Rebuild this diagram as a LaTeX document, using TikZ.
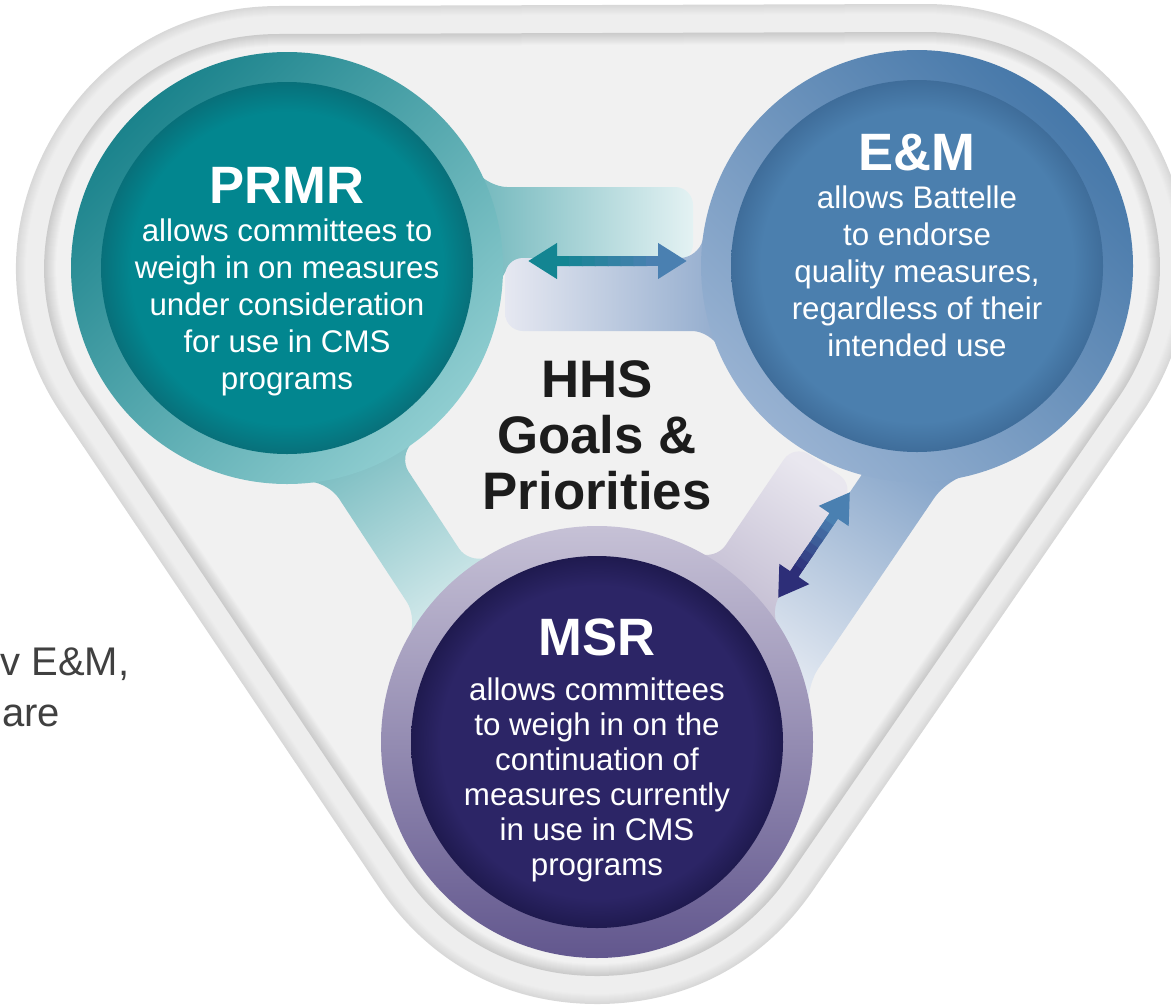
\documentclass[tikz,border=0pt]{standalone}
\usepackage{fontspec}
\setmainfont{Liberation Sans}
\usepackage{tikz}
\usetikzlibrary{arrows.meta, calc, positioning}
\usepackage{xcolor}
\definecolor{RimOuter}{HTML}{D8D8D8}
\definecolor{HullFace}{HTML}{EEEEEE}
\definecolor{RimInner}{HTML}{CBCBCB}
\definecolor{CenterFace}{HTML}{F1F1F1}
\definecolor{PrmrRingDark}{HTML}{1B838C}
\definecolor{PrmrRingLight}{HTML}{8FCDD0}
\definecolor{PrmrCore}{HTML}{02868F}
\definecolor{PrmrEdge}{HTML}{08707A}
\definecolor{EmRingDark}{HTML}{4678A9}
\definecolor{EmRingLight}{HTML}{98B2D2}
\definecolor{EmCore}{HTML}{4B7FAE}
\definecolor{EmEdge}{HTML}{3F6D9A}
\definecolor{MsrRingLight}{HTML}{C6C1D6}
\definecolor{MsrRingDark}{HTML}{62578E}
\definecolor{MsrCore}{HTML}{2C2566}
\definecolor{MsrEdge}{HTML}{1F1A4F}
\definecolor{BandATeal}{HTML}{55A9AF}
\definecolor{BandAPale}{HTML}{E4F2F3}
\definecolor{BandBPale}{HTML}{E6E8F1}
\definecolor{BandBBlue}{HTML}{7C9CC4}
\definecolor{BandCBlue}{HTML}{7095C0}
\definecolor{BandCPale}{HTML}{E2E8F1}
\definecolor{BandDPurple}{HTML}{B3ABC6}
\definecolor{BandDPale}{HTML}{E9E7EF}
\definecolor{BandETeal}{HTML}{62B1B6}
\definecolor{BandEPale}{HTML}{E9F4F5}
\definecolor{ArrTeal}{HTML}{138592}
\definecolor{ArrBlue}{HTML}{4A80B1}
\definecolor{ArrNavy}{HTML}{2D2E78}
\definecolor{HhsText}{HTML}{1C1C1C}
\definecolor{SideText}{HTML}{404040}
\pgfdeclareradialshading{prmrcore}{\pgfpoint{0bp}{0bp}}{color(0bp)=(PrmrCore); color(21bp)=(PrmrCore); color(25bp)=(PrmrEdge); color(50bp)=(PrmrEdge)}
\pgfdeclareradialshading{emcore}{\pgfpoint{0bp}{0bp}}{color(0bp)=(EmCore); color(21bp)=(EmCore); color(25bp)=(EmEdge); color(50bp)=(EmEdge)}
\pgfdeclareradialshading{msrcore}{\pgfpoint{0bp}{0bp}}{color(0bp)=(MsrCore); color(21bp)=(MsrCore); color(25bp)=(MsrEdge); color(50bp)=(MsrEdge)}
\tikzset{%
  ring_node/.style={%
    circle,%
    minimum size=216pt,%
    inner sep=0pt,%
    outer sep=0pt,%
  },
  core_node/.style={%
    circle,%
    shade,%
    minimum size=186pt,%
    inner sep=0pt,%
  },
  heading/.style={%
    anchor=base,%
    text=white,%
    inner sep=0pt,%
    font={\bfseries\fontsize{26.3pt}{30pt}\selectfont},%
  },
  blurb/.style={%
    anchor=base,%
    text=white,%
    align=center,%
    inner sep=0pt,%
    font={\fontsize{15.65pt}{18.5pt}\selectfont},%
  },
  hhs_text/.style={%
    anchor=base,%
    text=HhsText,%
    align=center,%
    inner sep=0pt,%
    font={\bfseries\fontsize{26.4pt}{28pt}\selectfont},%
  },
  side_note/.style={%
    anchor=base west,%
    text=SideText,%
    inner sep=0pt,%
    font={\fontsize{20pt}{24pt}\selectfont},%
  },
  bridge/.style={rounded corners=9pt},
  hull_layer/.style={line join=round},
  link/.style={line width=5pt},
  link_tip/.style={-{Triangle[length=14.5pt, width=17pt]}, line width=5pt},
}
\begin{document}
\begin{tikzpicture}[x=0.5pt, y=-0.5pt]
  \clip (0,0) rectangle (1171,1007);
  \fill[white] (0,0) rectangle (1171,1007);

  \coordinate (h1) at (279,268);
  \coordinate (h2) at (925,266);
  \coordinate (h3) at (597,742);
  \foreach \k in {0,...,10} {
    \pgfmathtruncatemacro\pc{100-10*\k}
    \pgfmathsetmacro\rw{262-\k}
    \filldraw[hull_layer, line width=\rw pt, color=RimOuter!\pc!HullFace] (h1) -- (h2) -- (h3) -- cycle;
  }
  \foreach \k in {0,...,12} {
    \pgfmathtruncatemacro\pc{100-100*\k/12}
    \pgfmathsetmacro\rw{234-\k}
    \filldraw[hull_layer, line width=\rw pt, color=RimInner!\pc!CenterFace] (h1) -- (h2) -- (h3) -- cycle;
  }

  % bridges between the circles
  \shade[bridge, left color=BandATeal, right color=BandAPale]
    (693,187) -- (489,187) -- (460,150) -- (420,200) -- (497,300) -- (506,262) -- (693,262) -- cycle;
  \shade[bridge, left color=BandBPale, right color=BandBBlue]
    (505,258) -- (698,258) -- (708,220) -- (780,220) -- (780,368) -- (730,368) -- (710,331) -- (505,331) -- cycle;
  \shade[bridge, top color=BandCBlue, bottom color=BandCPale, shading angle=-34]
    (934.3,368) -- (751.6,636.7) -- (809,725) -- (808.1,683.5) -- (944.7,482.6) -- (986,468) -- (994.7,409) -- cycle;
  \shade[bridge, top color=BandDPale, bottom color=BandDPurple, shading angle=-34]
    (854.5,485.4) -- (794.1,444.4) -- (715.4,560.2) -- (685,548) -- (654.7,649.5) -- (715.1,690.5) -- (790,650) -- (769.6,610.3) -- cycle;
  \shade[bridge, top color=BandETeal, bottom color=BandEPale, shading angle=33]
    (333.5,357.1) -- (427,428) -- (398.7,456.6) -- (468.9,563.6) -- (507,550) -- (525.4,649.7) -- (464.4,689.7) -- (402,655) -- (416.7,617) -- (328.9,483.2) -- (288,480) -- cycle;

  \node[ring_node, top color=PrmrRingDark, bottom color=PrmrRingLight, shading angle=45] (prmr) at (287,268) {};
  \node[ring_node, top color=EmRingDark, bottom color=EmRingLight, shading angle=-45] (em) at (917,266) {};
  \node[ring_node, top color=MsrRingLight, bottom color=MsrRingDark] (msr) at (597,742) {};
  \node[core_node, shading=prmrcore] (prmr-core) at (prmr.center) {};
  \node[core_node, shading=emcore] (em-core) at (em.center) {};
  \node[core_node, shading=msrcore] (msr-core) at (msr.center) {};

  \node[heading] (prmr-title) at ($(prmr)+(0,-65)$) {PRMR};
  \node[blurb] (prmr-text) at ($(prmr)+(0,121)$) {allows committees to\\weigh in on measures\\under consideration\\for use in CMS\\programs};
  \node[heading] (em-title) at ($(em)+(0,-96)$) {E\&M};
  \node[blurb] (em-text) at ($(em)+(0,90)$) {allows Battelle\\to endorse\\quality measures,\\regardless of their\\intended use};
  \node[heading] (msr-title) at ($(msr)+(0,-87)$) {MSR};
  \node[blurb, font={\fontsize{15.65pt}{17.5pt}\selectfont}] (msr-text) at ($(msr)+(0,133)$) {allows committees\\to weigh in on the\\continuation of\\measures currently\\in use in CMS\\programs};
  \node[hhs_text] (hhs) at (597,509) {HHS\\Goals \&\\Priorities};
  \node[side_note] (side-a) at (0,675) {v E\&M,};
  \node[side_note] (side-b) at (2,726) {are};

  % two-way arrows
  \coordinate (pe-a) at (528,261);
  \coordinate (pe-b) at (687,261);
  \coordinate (em-a) at (850,492);
  \coordinate (em-b) at (778,598);
  \draw[link_tip, ArrTeal] ($(pe-a)!30pt!(pe-b)$) -- (pe-a);
  \draw[link_tip, ArrBlue] ($(pe-b)!30pt!(pe-a)$) -- (pe-b);
  \draw[link_tip, ArrBlue] ($(em-a)!30pt!(em-b)$) -- (em-a);
  \draw[link_tip, ArrNavy] ($(em-b)!30pt!(em-a)$) -- (em-b);
  \foreach \k in {0,...,7} {
    \pgfmathtruncatemacro\pc{100-100*\k/7}
    \draw[link, ArrTeal!\pc!ArrBlue] ($($(pe-a)!14pt!(pe-b)$)!{\k/8}!($(pe-b)!14pt!(pe-a)$)$) -- ($($(pe-a)!14pt!(pe-b)$)!{(\k+1.1)/8}!($(pe-b)!14pt!(pe-a)$)$);
    \draw[link, ArrBlue!\pc!ArrNavy] ($($(em-a)!14pt!(em-b)$)!{\k/8}!($(em-b)!14pt!(em-a)$)$) -- ($($(em-a)!14pt!(em-b)$)!{(\k+1.1)/8}!($(em-b)!14pt!(em-a)$)$);
  }
\end{tikzpicture}
\end{document}
